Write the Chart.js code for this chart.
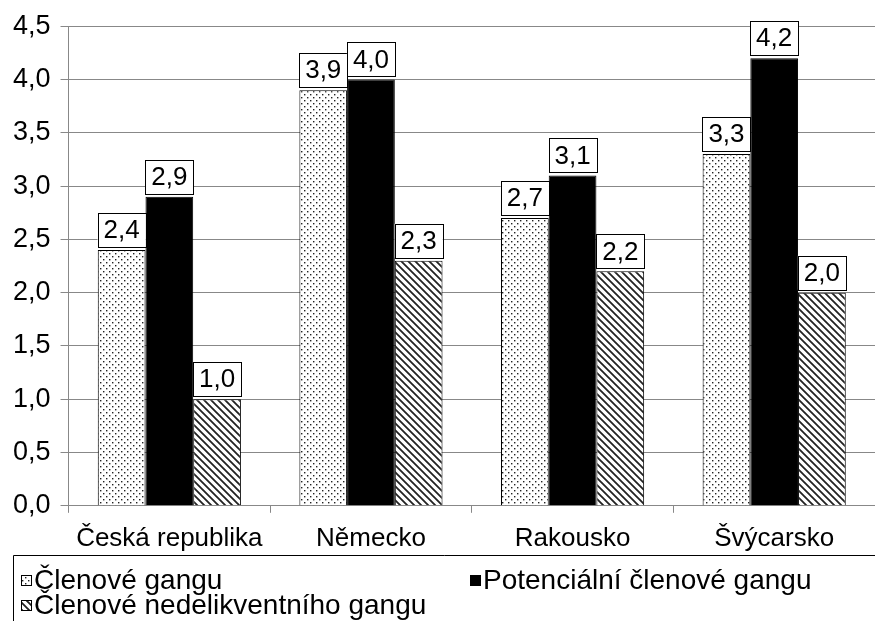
<!DOCTYPE html>
<html>
<head>
<meta charset="utf-8">
<script src="https://cdn.jsdelivr.net/npm/chart.js@4/dist/chart.umd.min.js"></script>
<style>
	html, body { margin: 0; padding: 0; background: #fff; }
	#wrap { width: 875px; height: 621px; }
</style>
</head>
<body>
<div id="wrap"><canvas id="gangChart" width="875" height="621"></canvas></div>
<script>
const countries = ["Česká republika", "Německo", "Rakousko", "Švýcarsko"];
const seriesNames = ["Členové gangu", "Potenciální členové gangu", "Členové nedelikventního gangu"];
const members = [2.4, 3.9, 2.7, 3.3];
const potentialMembers = [2.9, 4.0, 3.1, 4.2];
const nonDelinquentMembers = [1.0, 2.3, 2.2, 2.0];
const yTicks = [0, 0.5, 1, 1.5, 2, 2.5, 3, 3.5, 4, 4.5];

const FONT = "Arial, 'Liberation Sans', sans-serif";

function czNumber(v) {
	return v.toFixed(1).replace(".", ",");
}

// vzor s tečkami
function dotPattern() {
	const c = document.createElement("canvas");
	c.width = 6;
	c.height = 6;
	const ctx = c.getContext("2d");
	ctx.fillStyle = "#fff";
	ctx.fillRect(0, 0, 6, 6);
	ctx.fillStyle = "#222";
	ctx.fillRect(1, 1, 1.4, 1.4);
	ctx.fillRect(4, 4, 1.4, 1.4);
	return ctx.createPattern(c, "repeat");
}

// šrafování zleva shora doprava dolů
function hatchPattern() {
	const s = 7;
	const c = document.createElement("canvas");
	c.width = s;
	c.height = s;
	const ctx = c.getContext("2d");
	ctx.fillStyle = "#fff";
	ctx.fillRect(0, 0, s, s);
	ctx.strokeStyle = "#222";
	ctx.lineWidth = 1.8;
	ctx.beginPath();
	ctx.moveTo(-1, -1);
	ctx.lineTo(s + 1, s + 1);
	ctx.moveTo(-1, s - 1);
	ctx.lineTo(1, s + 1);
	ctx.moveTo(s - 1, -1);
	ctx.lineTo(s + 1, 1);
	ctx.stroke();
	return ctx.createPattern(c, "repeat");
}

// popisky hodnot v rámečcích nad sloupci
const valueBoxes = {
	id: "valueBoxes",
	afterDatasetsDraw(chart) {
		const ctx = chart.ctx;
		ctx.save();
		ctx.font = "26px " + FONT;
		ctx.textAlign = "center";
		ctx.textBaseline = "middle";
		chart.data.datasets.forEach((ds, i) => {
			chart.getDatasetMeta(i).data.forEach((bar, j) => {
				const text = czNumber(ds.data[j]);
				const w = ctx.measureText(text).width + 12;
				const h = 34;
				const x = bar.x - w / 2;
				const y = bar.y - 3 - h;
				ctx.fillStyle = "#fff";
				ctx.fillRect(x, y, w, h);
				ctx.strokeStyle = "#000";
				ctx.lineWidth = 1;
				ctx.strokeRect(Math.round(x) + 0.5, Math.round(y) + 0.5, Math.round(w), Math.round(h));
				ctx.fillStyle = "#000";
				ctx.fillText(text, bar.x, y + h / 2 + 1);
			});
		});
		ctx.restore();
	},
};

// legenda dole v rámečku
const boxLegend = {
	id: "boxLegend",
	afterDraw(chart) {
		const ctx = chart.ctx;
		ctx.save();
		ctx.strokeStyle = "#000";
		ctx.lineWidth = 1;
		ctx.beginPath();
		ctx.moveTo(13.5, 640);
		ctx.lineTo(13.5, 555.5);
		ctx.lineTo(900, 555.5);
		ctx.stroke();

		const spots = [
			{x: 21, y: 580},
			{x: 470, y: 580},
			{x: 21, y: 605},
		];
		ctx.font = "28px " + FONT;
		ctx.textBaseline = "middle";
		ctx.textAlign = "left";
		chart.data.datasets.forEach((ds, i) => {
			const p = spots[i];
			ctx.fillStyle = ds.backgroundColor;
			ctx.fillRect(p.x, p.y - 5, 10, 10);
			ctx.strokeStyle = "#000";
			ctx.strokeRect(p.x + 0.5, p.y - 5 + 0.5, 10, 10);
			ctx.fillStyle = "#000";
			ctx.fillText(ds.label, p.x + 13, p.y + 1);
		});
		ctx.restore();
	},
};

const canvas = document.getElementById("gangChart").getContext("2d");
const data = {
	labels: countries,
	datasets: [
		{
			label: seriesNames[0],
			data: members,
			backgroundColor: dotPattern(),
			borderColor: "#000",
			borderWidth: 1,
		},
		{
			label: seriesNames[1],
			data: potentialMembers,
			backgroundColor: "#000",
			borderColor: "#000",
			borderWidth: 1,
		},
		{
			label: seriesNames[2],
			data: nonDelinquentMembers,
			backgroundColor: hatchPattern(),
			borderColor: "#000",
			borderWidth: 1,
		},
	],
};

const config = {
	type: "bar",
	data: data,
	options: {
		responsive: false,
		animation: false,
		devicePixelRatio: 1,
		categoryPercentage: 0.71,
		barPercentage: 1,
		layout: {
			padding: {top: -9, left: 3, right: 0, bottom: 57},
		},
		scales: {
			x: {
				grid: {
					drawOnChartArea: false,
					color: "#888",
					tickLength: 7,
				},
				border: {color: "#888"},
				ticks: {
					color: "#000",
					font: {size: 26, family: FONT},
					padding: 10,
					maxRotation: 0,
					minRotation: 0,
					autoSkip: false,
				},
			},
			y: {
				min: 0,
				max: 4.5,
				afterBuildTicks: (axis) => {
					axis.ticks = yTicks.map((v) => ({value: v}));
				},
				grid: {
					color: "#888",
					tickLength: 8,
				},
				border: {color: "#888"},
				ticks: {
					color: "#000",
					font: {size: 27, family: FONT},
					padding: 10,
					callback: (v) => czNumber(v),
				},
			},
		},
		plugins: {
			legend: {display: false},
			title: {display: false},
			tooltip: {enabled: false},
		},
	},
	plugins: [valueBoxes, boxLegend],
};
new Chart(canvas, config);
</script>
</body>
</html>
